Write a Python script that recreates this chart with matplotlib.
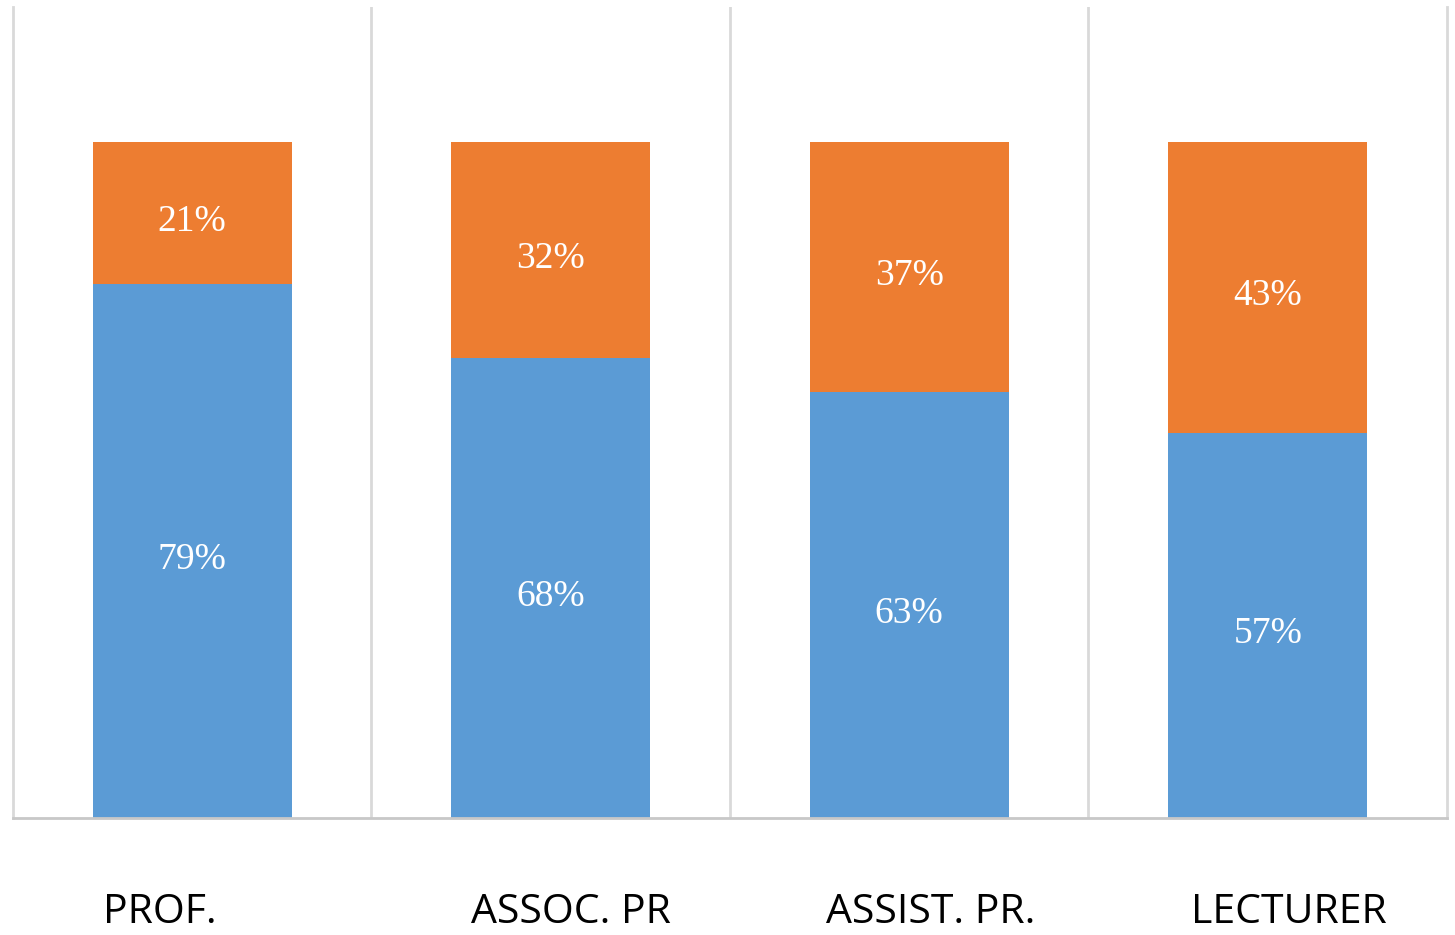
import matplotlib.pyplot as plt
import numpy as np

# --- Data ---
categories = ["PROF.", "ASSOC. PR", "ASSIST. PR.", "LECTURER"]
lower_pct = np.array([79, 68, 63, 57])   # blue segment
upper_pct = np.array([21, 32, 37, 43])   # orange segment

blue = "#5B9BD5"
orange = "#ED7D31"
grid_color = "#D9D9D9"

x = np.arange(len(categories))
width = 0.555

# --- Plot ---
fig = plt.figure(figsize=(14.55, 9.35), dpi=100)
ax = fig.add_axes([0.0089, 0.1251, 0.9856, 0.8674])

ax.bar(x, lower_pct / 100, width, color=blue)
ax.bar(x, upper_pct / 100, width, bottom=lower_pct / 100, color=orange)

ax.set_xlim(-0.5, len(categories) - 0.5)
ax.set_ylim(0, 1.2)

# category separators
for b in np.arange(0.5, len(categories) - 0.5, 1):
    ax.axvline(b, color=grid_color, lw=2, zorder=0)

# --- Labels inside segments ---
serif = ["Liberation Serif", "DejaVu Serif"]
for i in range(len(categories)):
    lo = lower_pct[i] / 100
    up = upper_pct[i] / 100
    for yc, val in [(lo / 2, lower_pct[i]), (lo + up / 2, upper_pct[i])]:
        ax.annotate(f"{val}%", (x[i], yc), xytext=(0, -6),
                    textcoords="offset points", ha="center", va="center",
                    color="white", fontsize=27, family=serif)

# --- Category labels (below the plot, slightly offset) ---
label_dx = [-0.09, 0.056, 0.06, 0.06]
trans = ax.get_xaxis_transform()
for i, name in enumerate(categories):
    ax.text(x[i] + label_dx[i], -0.129, name, transform=trans, ha="center",
            va="baseline", fontsize=29.5, family=["Open Sans", "DejaVu Sans"],
            color="black")

# --- Styling ---
ax.set_xticks([])
ax.set_yticks([])
ax.spines["top"].set_visible(False)
for side in ["left", "right"]:
    ax.spines[side].set_color(grid_color)
    ax.spines[side].set_linewidth(2)
ax.spines["bottom"].set_color("#C8C8C8")
ax.spines["bottom"].set_linewidth(2)

plt.savefig("out.png", dpi=100)
